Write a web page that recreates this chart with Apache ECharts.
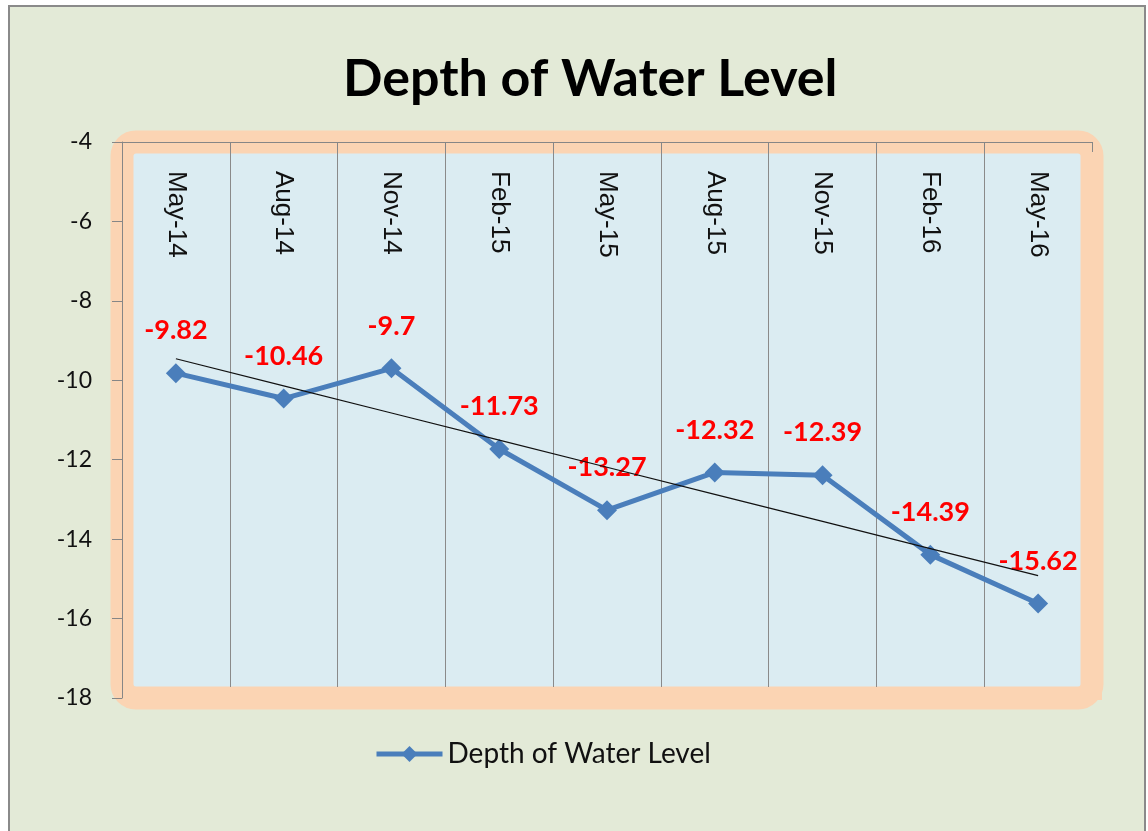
<!DOCTYPE html>
<html>
<head>
<meta charset="utf-8">
<script src="https://cdn.jsdelivr.net/npm/echarts@6/dist/echarts.min.js"></script>
<style>
  html, body { margin: 0; padding: 0; background: #ffffff; }
  #chart { width: 1148px; height: 831px; }
</style>
</head>
<body>
<div id="chart"></div>
<script>
const months = ["May-14", "Aug-14", "Nov-14", "Feb-15", "May-15", "Aug-15", "Nov-15", "Feb-16", "May-16"];
const depth = [-9.82, -10.46, -9.7, -11.73, -13.27, -12.32, -12.39, -14.39, -15.62];
const yTicks = { min: -18, max: -4, step: 2 };

// linear trendline (least squares over the category index), like Excel's
const trend = (function(values) {
  const n = values.length;
  const mx = (n - 1) / 2;
  const my = values.reduce((a, b) => a + b, 0) / n;
  let num = 0, den = 0;
  values.forEach((v, i) => {
    num += (i - mx) * (v - my);
    den += (i - mx) * (i - mx);
  });
  const k = num / den;
  return values.map((v, i) => +(my + k * (i - mx)).toFixed(3));
})(depth);

const GRID = { left: 122, top: 142, width: 970, height: 556 };
const FRAME = "#fbd4b3";

const chart = echarts.init(document.getElementById("chart"), null, { renderer: "canvas" });

chart.setOption({
  animation: false,
  backgroundColor: "#ffffff",
  graphic: [
    {
      type: "rect",
      z: -20,
      shape: { x: 9, y: 6, width: 1136, height: 850 },
      style: { fill: "#e3ead7", stroke: "#8a8a8a", lineWidth: 2 }
    },
    {
      type: "rect",
      z: -10,
      shape: { x: GRID.left, y: GRID.top, width: GRID.width, height: GRID.height, r: 14 },
      style: { fill: "#dbecf2", stroke: FRAME, lineWidth: 23 }
    },
    // the frame hides the grid lines along the bottom and the right edge
    {
      type: "rect",
      z: 5,
      silent: true,
      shape: { x: GRID.left + 11, y: GRID.top + GRID.height - 11, width: GRID.width - 22, height: 13 },
      style: { fill: FRAME }
    },
    {
      type: "rect",
      z: 5,
      silent: true,
      shape: { x: GRID.left + GRID.width - 11, y: GRID.top + 10, width: 21, height: GRID.height - 8 },
      style: { fill: FRAME }
    }
  ],
  title: {
    text: "Depth of Water Level",
    left: 338,
    top: 48,
    textStyle: { fontFamily: "Lato", fontWeight: "bold", fontSize: 52, color: "#000000" }
  },
  legend: {
    data: ["Depth of Water Level"],
    left: 369,
    top: 735,
    itemWidth: 66,
    itemHeight: 20,
    itemGap: 5,
    lineStyle: { width: 5 },
    textStyle: { fontFamily: "Lato", fontSize: 28, color: "#111111" }
  },
  grid: {
    left: GRID.left,
    top: GRID.top,
    width: GRID.width,
    height: GRID.height,
    containLabel: false
  },
  xAxis: {
    type: "category",
    position: "top",
    data: months,
    boundaryGap: true,
    axisLine: { show: true, lineStyle: { color: "#868686", width: 1 } },
    axisTick: { show: true, inside: true, length: 8, lineStyle: { color: "#868686" } },
    splitLine: { show: true, lineStyle: { color: "#8a8a8a", width: 1 } },
    axisLabel: {
      inside: true,
      rotate: 90,
      align: "left",
      verticalAlign: "middle",
      margin: 29,
      fontFamily: "Liberation Sans",
      fontSize: 26,
      color: "#111111"
    }
  },
  yAxis: {
    type: "value",
    min: yTicks.min,
    max: yTicks.max,
    interval: yTicks.step,
    axisLine: { show: true, lineStyle: { color: "#868686", width: 1 } },
    axisTick: { show: true, length: 10, lineStyle: { color: "#868686" } },
    splitLine: { show: false },
    axisLabel: { margin: 30, fontFamily: "Lato", fontSize: 23, color: "#111111" }
  },
  series: [
    {
      name: "Depth of Water Level",
      type: "line",
      data: depth,
      symbol: "diamond",
      symbolSize: 20,
      itemStyle: { color: "#4a7ebb" },
      lineStyle: { color: "#4a7ebb", width: 5 },
      label: {
        show: true,
        position: "top",
        distance: 19,
        color: "#ff0000",
        fontFamily: "Lato",
        fontWeight: "bold",
        fontSize: 27
      },
      z: 3
    },
    {
      name: "Linear (Depth of Water Level)",
      type: "line",
      data: trend,
      symbol: "none",
      silent: true,
      lineStyle: { color: "#111111", width: 1.2 },
      z: 4
    }
  ]
});
</script>
</body>
</html>
